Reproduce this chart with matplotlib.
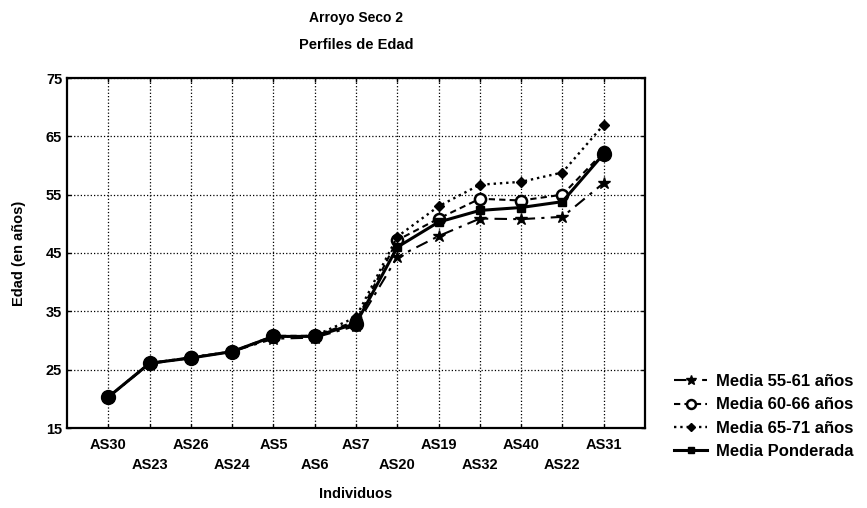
import matplotlib
matplotlib.use("Agg")
from matplotlib import pyplot as plt

plt.rcParams["font.family"] = ["Liberation Sans", "DejaVu Sans"]
plt.rcParams["font.weight"] = "bold"

individuos = ["AS30", "AS23", "AS26", "AS24", "AS5", "AS6", "AS7",
              "AS20", "AS19", "AS32", "AS40", "AS22", "AS31"]
media_55_61 = [20.3, 26.0, 27.0, 28.1, 30.3, 30.5, 32.5, 44.3, 47.9, 50.9, 50.8, 51.2, 57.0]
media_60_66 = [20.3, 26.1, 27.1, 28.1, 30.8, 30.8, 33.3, 47.2, 50.9, 54.3, 54.0, 55.0, 62.3]
media_65_71 = [20.3, 26.1, 27.1, 28.1, 30.6, 30.8, 34.0, 47.8, 53.0, 56.7, 57.2, 58.8, 67.0]
media_ponderada = [20.3, 26.1, 27.0, 28.1, 30.7, 30.7, 32.9, 46.0, 50.3, 52.3, 52.8, 53.8, 62.0]

fig = plt.figure(figsize=(8.67, 5.08), dpi=100)
ax = fig.add_axes([67 / 867, 1 - 428 / 508, 578 / 867, 350 / 508])

x = list(range(1, len(individuos) + 1))
ax.plot(x, media_55_61, color="black", linestyle=(0, (6, 3, 1.5, 3)), linewidth=1.5,
        marker="*", markersize=9, label="Media 55-61 años")
ax.plot(x, media_60_66, color="black", linestyle=(0, (3, 2)), linewidth=1.5,
        marker="o", markersize=8, markerfacecolor="white", markeredgewidth=1.8,
        label="Media 60-66 años")
ax.plot(x, media_65_71, color="black", linestyle=":", linewidth=1.7,
        marker="D", markersize=5, label="Media 65-71 años")
ax.plot(x, media_ponderada, color="black", linestyle="-", linewidth=2.2,
        marker="s", markersize=6, label="Media Ponderada")
ax.plot(x[:7], media_ponderada[:7], color="black", linestyle="", marker="o", markersize=10)
ax.plot(x[-1:], media_ponderada[-1:], color="black", linestyle="", marker="o", markersize=10)

ax.set_xlim(0, 14)
ax.set_ylim(15, 75)
ax.set_yticks(range(15, 76, 10))
ax.set_xticks(x)
ax.set_xticklabels([lab if i % 2 == 0 else "\n" + lab for i, lab in enumerate(individuos)],
                   fontsize=10.5, fontweight="bold", linespacing=1.55)
for lab in ax.get_yticklabels():
    lab.set_fontsize(10.5)
    lab.set_fontweight("bold")
ax.tick_params(direction="in", length=3, top=True, right=True, width=1)
ax.tick_params(axis="x", pad=7)
ax.grid(True, linestyle=":", color="black", linewidth=0.9)
for sp in ax.spines.values():
    sp.set_linewidth(1.6)

ax.set_xlabel("Individuos", fontsize=10.5, fontweight="bold", labelpad=11)
ax.set_ylabel("Edad (en años)", fontsize=10.5, fontweight="bold", labelpad=14)

fig.text(356 / 867, 1 - 18 / 508, "Arroyo Seco 2", ha="center", va="center",
         fontsize=10, fontweight="bold")
fig.text(356 / 867, 1 - 45 / 508, "Perfiles de Edad", ha="center", va="center",
         fontsize=10.5, fontweight="bold")

leg = fig.legend(loc="upper left", bbox_to_anchor=(674 / 867, 1 - 374 / 508),
                 frameon=False, fontsize=12, handlelength=2.0, handletextpad=0.5,
                 labelspacing=0.5, borderpad=0, borderaxespad=0, markerscale=0.8)
for t in leg.get_texts():
    t.set_fontweight("bold")

fig.savefig("out.png", dpi=100)
